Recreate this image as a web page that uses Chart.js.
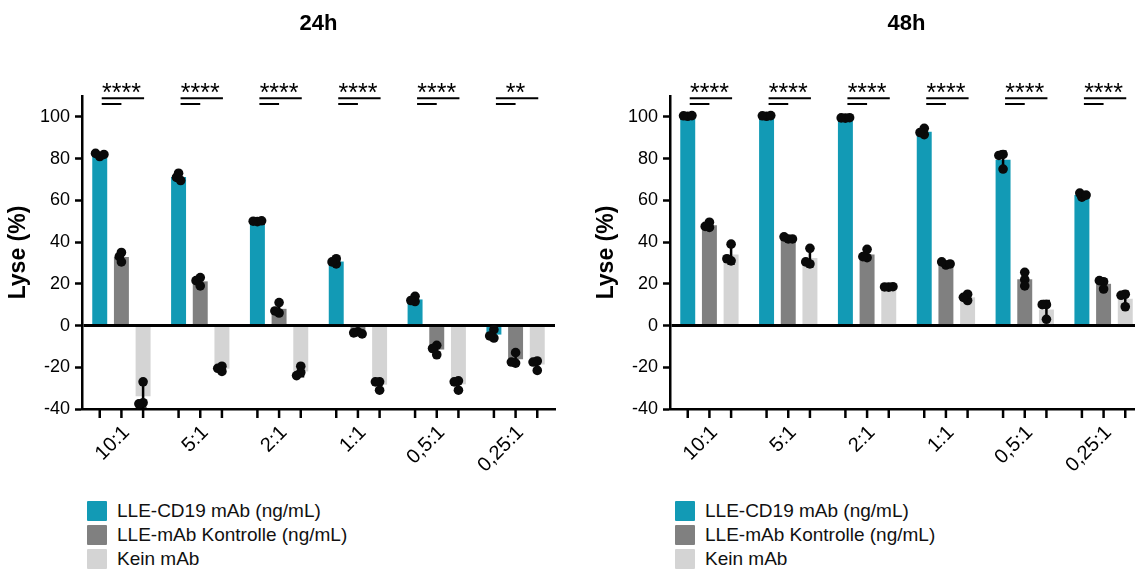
<!DOCTYPE html>
<html>
<head>
<meta charset="utf-8">
<script src="https://cdn.jsdelivr.net/npm/chart.js@4.4.1/dist/chart.umd.min.js"></script>
<style>
  html, body { margin: 0; padding: 0; background: #fff; overflow: hidden; width: 1135px; height: 569px; }
  .panel { position: absolute; top: 0; width: 567px; height: 480px; }
  .legend { position: absolute; top: 499px; font-family: "Liberation Sans", Arial, sans-serif; font-size: 19px; color: #111; }
  .legend .row { display: flex; align-items: center; height: 24px; white-space: nowrap; }
  .legend .sw { width: 20px; height: 20px; margin-right: 10px; border-radius: 1px; }
</style>
</head>
<body>
<div class="panel" style="left:0"><canvas id="c24" width="567" height="480"></canvas></div>
<div class="panel" style="left:588px"><canvas id="c48" width="567" height="480"></canvas></div>
<div class="legend" id="lg24" style="left:87px"></div>
<div class="legend" id="lg48" style="left:675px"></div>
<script>
// Effector:target ratios
const categories = ['10:1', '5:1', '2:1', '1:1', '0,5:1', '0,25:1'];
const seriesNames = ['LLE-CD19 mAb (ng/mL)', 'LLE-mAb Kontrolle (ng/mL)', 'Kein mAb'];
const seriesColors = ['#129ab5', '#808080', '#d4d4d4'];
const yTicks = [-40, -20, 0, 20, 40, 60, 80, 100];

// Lysis (%) per replicate, 24 h
const cd19_24h = [[81, 82.5, 82], [73, 71, 69.5], [49.8, 50, 50.2], [29.5, 32, 30.5], [11.5, 14, 12], [-2, -6, -5]];
const ctrl_24h = [[35, 33, 30.5], [23, 21.5, 19], [11, 6, 7], [-3, -3.5, -4], [-9.5, -11, -14], [-13, -18, -17.5]];
const none_24h = [[-27, -37, -37.5], [-22, -19.5, -20.5], [-19.5, -22.5, -24], [-27, -27, -31], [-26.5, -27, -31], [-17, -17.5, -21.5]];
const sig_24h = ['****', '****', '****', '****', '****', '**'];

// Lysis (%) per replicate, 48 h
const cd19_48h = [[100.3, 100.5, 100.6], [100.3, 100.5, 100.6], [99.4, 99.5, 99.6], [91.5, 94.5, 92.5], [82, 81.5, 75], [61.5, 63.5, 62.5]];
const ctrl_48h = [[47, 49.5, 47.5], [41.5, 42.5, 41.5], [36.5, 32.5, 33], [29, 30.5, 29.5], [25.5, 22, 19], [21, 21.5, 17.5]];
const none_48h = [[39, 31, 32], [37, 29.5, 30.5], [18.4, 18.5, 18.6], [12, 15, 13.5], [10, 10, 3], [15, 14.5, 9]];
const sig_48h = ['****', '****', '****', '****', '****', '****'];

const FONT = '"Liberation Sans", Arial, sans-serif';
Chart.defaults.font.family = FONT;
Chart.defaults.color = '#000';

const mean = a => a.reduce((s, v) => s + v, 0) / a.length;
const sd = a => { const m = mean(a); return Math.sqrt(a.reduce((s, v) => s + (v - m) * (v - m), 0) / (a.length - 1)); };

// spread replicate dots sideways only where they would pile up
function swarm(pixels, minDist, step) {
  const placed = [];
  return pixels.map(py => {
    const cands = [0];
    for (let k = 1; k <= 6; k++) cands.push(-k * step, k * step);
    let dx = 0;
    for (const c of cands) {
      if (placed.every(p => Math.hypot(p.x - c, p.y - py) >= minDist)) { dx = c; break; }
    }
    placed.push({ x: dx, y: py });
    return dx;
  });
}

// error bars, replicate dots, axis ticks per bar, significance brackets and panel title
const overlay = {
  id: 'overlay',
  afterDatasetsDraw(chart, args, opts) {
    const ctx = chart.ctx, y = chart.scales.y;
    ctx.save();
    opts.reps.forEach((series, i) => {
      const meta = chart.getDatasetMeta(i);
      series.forEach((vals, j) => {
        const x = meta.data[j].x;
        const m = mean(vals), s = sd(vals);
        const y1 = y.getPixelForValue(m - s), y2 = y.getPixelForValue(m + s);
        ctx.strokeStyle = '#000';
        ctx.lineWidth = 2.5;
        ctx.beginPath();
        ctx.moveTo(x, y1); ctx.lineTo(x, y2);
        ctx.moveTo(x - 3.5, y1); ctx.lineTo(x + 3.5, y1);
        ctx.moveTo(x - 3.5, y2); ctx.lineTo(x + 3.5, y2);
        ctx.stroke();
        ctx.fillStyle = '#0a0a0a';
        const py = vals.map(v => y.getPixelForValue(v));
        const dx = swarm(py, 4.2, 2.1);
        py.forEach((p, k) => {
          ctx.beginPath();
          ctx.arc(x + dx[k], p, 4.8, 0, Math.PI * 2);
          ctx.fill();
        });
      });
    });
    ctx.restore();
  },
  afterDraw(chart, args, opts) {
    const ctx = chart.ctx, area = chart.chartArea;
    ctx.save();
    // tick mark under every bar
    ctx.strokeStyle = '#000';
    ctx.lineWidth = 2.5;
    const axisY = area.bottom;
    for (let i = 0; i < chart.data.datasets.length; i++) {
      chart.getDatasetMeta(i).data.forEach(bar => {
        ctx.beginPath();
        ctx.moveTo(bar.x, axisY);
        ctx.lineTo(bar.x, axisY + 9);
        ctx.stroke();
      });
    }
    // significance brackets
    const m0 = chart.getDatasetMeta(0).data, m1 = chart.getDatasetMeta(1).data, m2 = chart.getDatasetMeta(2).data;
    opts.sig.forEach((label, j) => {
      const xa = m0[j].x + 2, xb = m1[j].x, xc = m2[j].x + 1;
      ctx.lineWidth = 2;
      ctx.beginPath();
      ctx.moveTo(xa, area.top + 2.3); ctx.lineTo(xc, area.top + 2.3);
      ctx.moveTo(xa, area.top + 8); ctx.lineTo(xb, area.top + 8);
      ctx.stroke();
      ctx.fillStyle = '#000';
      ctx.font = '25px ' + FONT;
      ctx.textAlign = 'center';
      ctx.textBaseline = 'alphabetic';
      ctx.fillText(label, xb, area.top + 5);
    });
    // panel title
    ctx.font = 'bold 22px ' + FONT;
    ctx.textAlign = 'center';
    ctx.textBaseline = 'alphabetic';
    ctx.fillText(opts.title, (area.left + area.right) / 2, 30);
    ctx.restore();
  }
};

function buildChart(id, title, reps, sig) {
  const datasets = seriesNames.map((name, i) => ({
    label: name,
    data: reps[i].map(mean),
    backgroundColor: seriesColors[i],
    borderWidth: 0,
    barPercentage: 0.69,
    categoryPercentage: 0.825
  }));
  return new Chart(document.getElementById(id), {
    type: 'bar',
    data: { labels: categories, datasets },
    options: {
      responsive: false,
      animation: false,
      layout: { padding: { top: 96, left: 0, right: 12, bottom: 0 } },
      plugins: {
        legend: { display: false },
        tooltip: { enabled: false },
        overlay: { reps, sig, title }
      },
      scales: {
        x: {
          grid: { drawOnChartArea: false, drawTicks: true, tickLength: 8, color: 'rgba(0,0,0,0)' },
          border: { display: true, color: '#000', width: 2.5 },
          ticks: { color: '#000', font: { size: 20 }, minRotation: 45, maxRotation: 45, padding: 4, labelOffset: 5, autoSkip: false },
          afterFit(s) { s.height = 480 - 409; }
        },
        y: {
          min: -40, max: 110,
          afterBuildTicks(s) { s.ticks = yTicks.map(v => ({ value: v })); },
          ticks: { color: '#000', font: { size: 18 }, padding: 5 },
          grid: {
            drawOnChartArea: true,
            color: c => (c.tick && c.tick.value === 0 ? '#000' : 'rgba(0,0,0,0)'),
            lineWidth: c => (c.tick && c.tick.value === 0 ? 3 : 1),
            tickColor: '#000', tickWidth: 2.5, tickLength: 7
          },
          border: { display: true, color: '#000', width: 2.5 },
          title: { display: true, text: 'Lyse (%)', color: '#000', font: { size: 23, weight: 'bold' }, padding: { top: 5, bottom: 0 } },
          afterFit(s) { s.width = 82; }
        }
      }
    },
    plugins: [overlay]
  });
}

function buildLegend(id) {
  const el = document.getElementById(id);
  seriesNames.forEach((name, i) => {
    const row = document.createElement('div');
    row.className = 'row';
    const sw = document.createElement('span');
    sw.className = 'sw';
    sw.style.background = seriesColors[i];
    const tx = document.createElement('span');
    tx.textContent = name;
    row.appendChild(sw); row.appendChild(tx);
    el.appendChild(row);
  });
}

buildChart('c24', '24h', [cd19_24h, ctrl_24h, none_24h], sig_24h);
buildChart('c48', '48h', [cd19_48h, ctrl_48h, none_48h], sig_48h);
buildLegend('lg24');
buildLegend('lg48');
</script>
</body>
</html>
